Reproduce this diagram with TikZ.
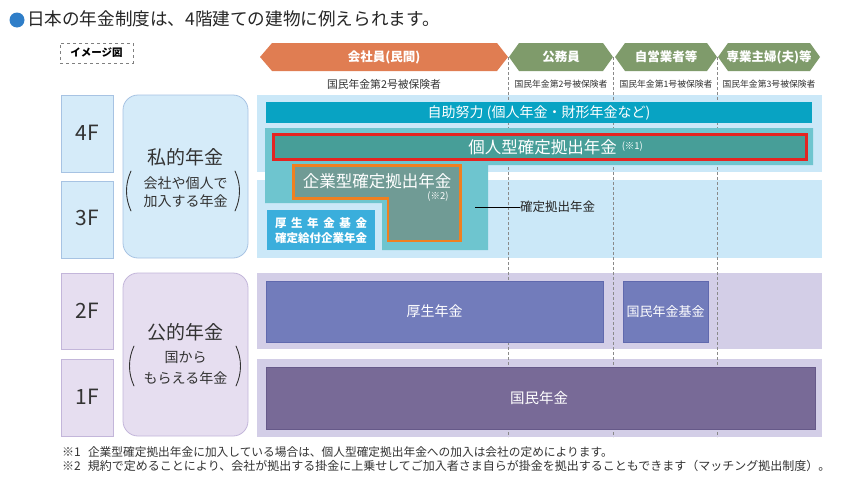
\documentclass[tikz,border=0pt]{standalone}
\usepackage{fontspec}
\setmainfont{Noto Sans CJK JP}
\newcommand\myfs[1]{\fontsize{#1}{#1}\selectfont}
\definecolor{ttlblue}{HTML}{2F7EC8}
\definecolor{orng}{HTML}{E07D52}
\definecolor{grn}{HTML}{7F9B6B}
\definecolor{lbblue}{HTML}{D5EBF9}
\definecolor{lbblueB}{HTML}{A7C3E3}
\definecolor{lbpurp}{HTML}{E6DEF0}
\definecolor{lbpurpB}{HTML}{C3B6DA}
\definecolor{bgblue}{HTML}{CBE8F8}
\definecolor{bgpurp}{HTML}{D3CEE7}
\definecolor{jijo}{HTML}{08A3C3}
\definecolor{tealA}{HTML}{6EC5CF}
\definecolor{ideco}{HTML}{479E98}
\definecolor{redB}{HTML}{E42421}
\definecolor{kigyo}{HTML}{709B95}
\definecolor{orB}{HTML}{F08020}
\definecolor{kikin}{HTML}{3AAEDC}
\definecolor{kosei}{HTML}{727CBB}
\definecolor{koseiB}{HTML}{6069AE}
\definecolor{kokumin}{HTML}{786A97}
\definecolor{kokuminB}{HTML}{665989}
\definecolor{txtdark}{HTML}{333333}
\definecolor{dashgray}{HTML}{8A8A8A}
\begin{document}
\begin{tikzpicture}[x=1pt,y=-1pt,
  txt/.style={inner sep=0pt, outer sep=0pt, text=txtdark},
  wtxt/.style={inner sep=0pt, outer sep=0pt, text=white},
  hdr/.style={wtxt, font=\myfs{12.5}\bfseries},
  subt/.style={txt, font=\myfs{8.8}},
  floorlbl/.style={txt, font=\myfs{21}},
  bluelbl/.style={fill=lbblue, draw=lbblueB, line width=0.8pt},
  purplbl/.style={fill=lbpurp, draw=lbpurpB, line width=0.8pt},
  sep/.style={draw=dashgray, line width=0.6pt, dash pattern=on 3pt off 2pt},
  paren/.style={draw=txtdark, line width=0.9pt, line cap=round},
  note/.style={txt, font=\myfs{12}, anchor=west}
]
\useasboundingbox (0,0) rectangle (850,482);
\fill[white] (0,0) rectangle (850,482);

% title
\fill[ttlblue] (17,20) circle (7.5);
\node[txt, anchor=west, font=\myfs{17.6}, text=black!85] (title) at (27,19) {日本の年金制度は、4階建ての建物に例えられます。};

% image label
\node[txt, draw=gray, dashed, line width=0.6pt, minimum width=73pt, minimum height=20pt, font=\myfs{10.5}\bfseries, text=black] (imglbl) at (96.5,53) {イメージ図};

% left labels
\path[bluelbl] (61,95) rectangle (113,172);
\node[floorlbl] (f4) at (87,133) {4F};
\path[bluelbl] (61,181) rectangle (113,258);
\node[floorlbl] (f3) at (87,218) {3F};
\path[purplbl] (61,273) rectangle (113,349);
\node[floorlbl] (f2) at (87,311) {2F};
\path[purplbl] (61,359) rectangle (113,436);
\node[floorlbl] (f1) at (87,397) {1F};

\path[bluelbl, rounded corners=15pt] (123,95) rectangle (248,258);
\node[txt, font=\myfs{19}] (shiteki) at (185.5,157) {私的年金};
\node[txt, font=\myfs{14}] (shiteki2) at (185.5,183) {会社や個人で};
\node[txt, font=\myfs{14}] (shiteki3) at (185.5,201) {加入する年金};
\draw[paren] (131,171) .. controls (125,184) and (125,198) .. (131,211);
\draw[paren] (235,171) .. controls (241,184) and (241,198) .. (235,211);

\path[purplbl, rounded corners=15pt] (123,273) rectangle (248,436);
\node[txt, font=\myfs{19}] (koteki) at (185.5,332) {公的年金};
\node[txt, font=\myfs{14}] (koteki2) at (185.5,357) {国から};
\node[txt, font=\myfs{14}] (koteki3) at (185.5,378) {もらえる年金};
\draw[paren] (134,346) .. controls (128,359) and (128,373) .. (134,386);
\draw[paren] (236,346) .. controls (242,359) and (242,373) .. (236,386);

% floor backgrounds
\fill[bgblue] (257,95) rectangle (822,172);
\fill[bgblue] (257,180) rectangle (822,258);
\fill[bgpurp] (257,273) rectangle (822,349);
\fill[bgpurp] (257,359) rectangle (822,437);

% dashed separators
\draw[sep] (508.5,57) -- (508.5,437);
\draw[sep] (613.5,57) -- (613.5,437);
\draw[sep] (717.5,57) -- (717.5,437);

% header arrows
\fill[orng] (260,57) -- (272,43) -- (497,43) -- (508,57) -- (497,71) -- (272,71) -- cycle;
\node[hdr] (kaisha) at (384,57) {会社員(民間)};
\fill[grn] (509,57) -- (519,43) -- (603,43) -- (613,57) -- (603,71) -- (519,71) -- cycle;
\node[hdr] (komu) at (561,57) {公務員};
\fill[grn] (615,57) -- (625,43) -- (707,43) -- (717,57) -- (707,71) -- (625,71) -- cycle;
\node[hdr] (jiei) at (666,57) {自営業者等};
\fill[grn] (718,57) -- (728,43) -- (810,43) -- (820,57) -- (810,71) -- (728,71) -- cycle;
\node[hdr] (sengyo) at (769,57) {専業主婦(夫)等};

\node[txt, font=\myfs{10.8}] (sub1) at (384,84) {国民年金第2号被保険者};
\node[subt] (sub2) at (561,84) {国民年金第2号被保険者};
\node[subt] (sub3) at (666,84) {国民年金第1号被保険者};
\node[subt] (sub4) at (769,84) {国民年金第3号被保険者};

% 4F / 3F
\fill[jijo] (266,102) rectangle (812,123);
\node[wtxt, font=\myfs{14}] (jijo) at (539,112.5) {自助努力 (個人年金・財形年金など)};

\fill[tealA] (265,128) -- (813,128) -- (813,165) -- (488,165) -- (488,250) -- (382,250) -- (382,203) -- (265,203) -- cycle;

\path[fill=ideco, draw=redB, line width=3pt] (273.5,134.5) rectangle (806.5,159.5);
\node[wtxt, font=\myfs{16.5}] (ideco) at (542.5,147) {個人型確定拠出年金};
\node[wtxt, font=\myfs{9.5}, anchor=west] (ideconote) at ([xshift=5pt]ideco.east) {(※1)};

\path[fill=kigyo, draw=orB, line width=2.6pt, line join=miter] (293.5,165.5) -- (460.5,165.5) -- (460.5,241) -- (388,241) -- (388,198.5) -- (293.5,198.5) -- cycle;
\node[wtxt, font=\myfs{16.5}] (kigyo) at (377,181) {企業型確定拠出年金};
\node[wtxt, font=\myfs{9.5}] (kigyonote) at (438,197) {(※2)};

\fill[kikin] (267,210) rectangle (375,250);
\node[wtxt, font=\myfs{11.5}\bfseries] (kikin1) at (321,223) {\makebox[92pt][s]{厚\hfill 生\hfill 年\hfill 金\hfill 基\hfill 金}};
\node[wtxt, font=\myfs{11.5}\bfseries] (kikin2) at (321,238.5) {確定給付企業年金};

\coordinate (dcstart) at (475,207);
\node[txt, font=\myfs{12.5}, anchor=west, text=black!85] (dclbl) at (520,207) {確定拠出年金};
\draw[black, line width=0.9pt] (dcstart) -- (dclbl.west);

% 2F
\path[fill=kosei, draw=koseiB, line width=0.8pt] (266,281) rectangle (603,342);
\node[wtxt, font=\myfs{14}] (kosei) at (434.5,311.5) {厚生年金};
\path[fill=kosei, draw=koseiB, line width=0.8pt] (623,281) rectangle (708,342);
\node[wtxt, font=\myfs{13}] (kikin) at (665.5,311.5) {国民年金基金};

% 1F
\path[fill=kokumin, draw=kokuminB, line width=0.8pt] (266,367) rectangle (815,429);
\node[wtxt, font=\myfs{14.5}] (kokumin) at (539,398) {国民年金};

% footnotes
\node[note, font=\myfs{11.7}] (fn1) at (62,452) {\makebox[26pt][l]{\myfs{12}※1}企業型確定拠出年金に加入している場合は、個人型確定拠出年金への加入は会社の定めによります。};
\node[note] (fn2) at (62,465.5) {\makebox[26pt][l]{※2}規約で定めることにより、会社が拠出する掛金に上乗せしてご加入者さま自らが掛金を拠出することもできます（マッチング拠出制度）。};
\end{tikzpicture}
\end{document}
